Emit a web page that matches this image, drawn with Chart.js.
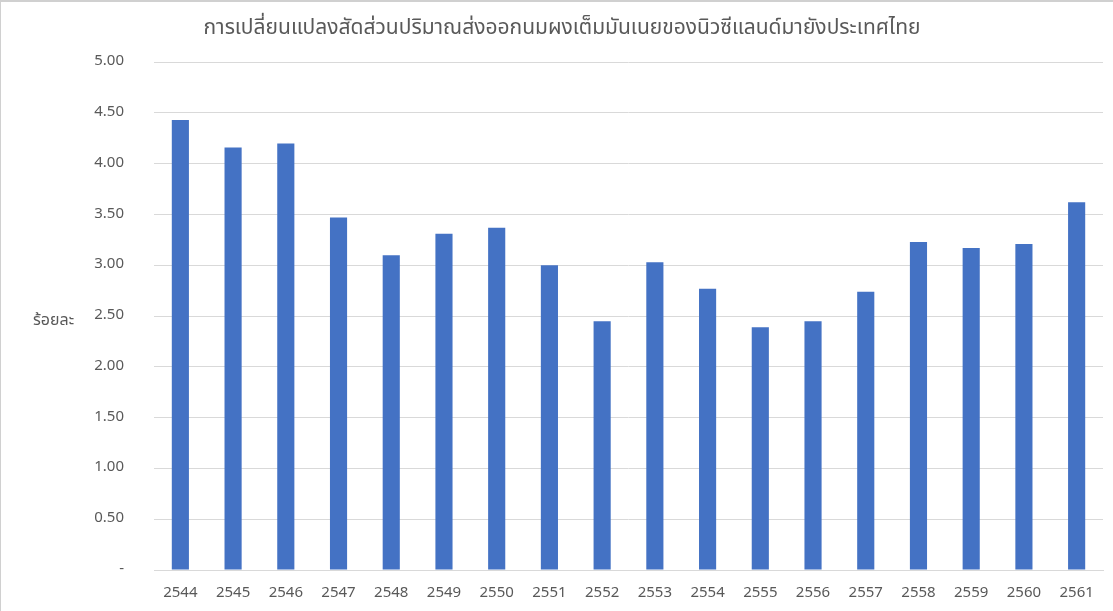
<!DOCTYPE html>
<html>
<head>
<meta charset="utf-8">
<script src="https://cdn.jsdelivr.net/npm/chart.js@4.4.0/dist/chart.umd.min.js"></script>
<style>
  html, body { margin: 0; padding: 0; background: #fff; }
  #wrap { width: 1113px; height: 611px; position: relative; box-sizing: border-box; border-top: 2px solid #d0d0d0; border-left: 1px solid #d0d0d0; }
</style>
</head>
<body>
<div id="wrap"><canvas id="chart"></canvas></div>
<script>
var ปี = ['2544', '2545', '2546', '2547', '2548', '2549', '2550', '2551', '2552', '2553', '2554', '2555', '2556', '2557', '2558', '2559', '2560', '2561'];
var สัดส่วน = [4.43, 4.16, 4.20, 3.47, 3.10, 3.31, 3.37, 3.00, 2.45, 3.03, 2.77, 2.39, 2.45, 2.74, 3.23, 3.17, 3.21, 3.62];
var ชื่อกราฟ = 'การเปลี่ยนแปลงสัดส่วนปริมาณส่งออกนมผงเต็มมันเนยของนิวซีแลนด์มายังประเทศไทย';
var หน่วย = 'ร้อยละ';

var fontFam = "'Noto Sans Thai', 'Noto Sans', 'DejaVu Sans', sans-serif";
var grey = '#595959';

var unitLabel = {
    id: 'unitLabel',
    afterDraw: function (chart) {
        var ctx = chart.ctx;
        var y = chart.scales.y;
        ctx.save();
        ctx.font = '16px ' + fontFam;
        ctx.fillStyle = grey;
        ctx.textAlign = 'left';
        ctx.textBaseline = 'middle';
        ctx.fillText(หน่วย, 32, y.getPixelForValue(2.5) + 6);
        ctx.restore();
    }
};

var ctx = document.getElementById('chart');
var chart = new Chart(ctx, {
    type: 'bar',
    data: {
        labels: ปี,
        datasets: [{
            label: หน่วย,
            data: สัดส่วน,
            backgroundColor: '#4472c4',
            barPercentage: 0.65,
            categoryPercentage: 0.5
        }]
    },
    options: {
        responsive: true,
        maintainAspectRatio: false,
        animation: false,
        layout: { padding: { left: 20, right: 10, top: 11, bottom: 3 } },
        plugins: {
            legend: { display: false },
            tooltip: { enabled: false },
            title: {
                display: true,
                text: ชื่อกราฟ,
                color: grey,
                font: { family: fontFam, size: 21, weight: 'normal' },
                padding: { top: 4, bottom: 20 }
            }
        },
        scales: {
            x: {
                grid: { display: false },
                border: { color: '#d9d9d9' },
                afterFit: function (scale) { scale.height = 38; },
                ticks: { color: grey, font: { family: fontFam, size: 15 }, padding: 7 }
            },
            y: {
                min: 0,
                max: 5,
                border: { display: false },
                grid: { color: '#d9d9d9', drawTicks: false },
                afterFit: function (scale) { scale.width = 133; },
                ticks: {
                    stepSize: 0.5,
                    color: grey,
                    padding: 30,
                    font: { family: fontFam, size: 15 },
                    callback: function (v) { return v === 0 ? '-' : v.toFixed(2); }
                }
            }
        }
    },
    plugins: [unitLabel]
});
</script>
</body>
</html>
